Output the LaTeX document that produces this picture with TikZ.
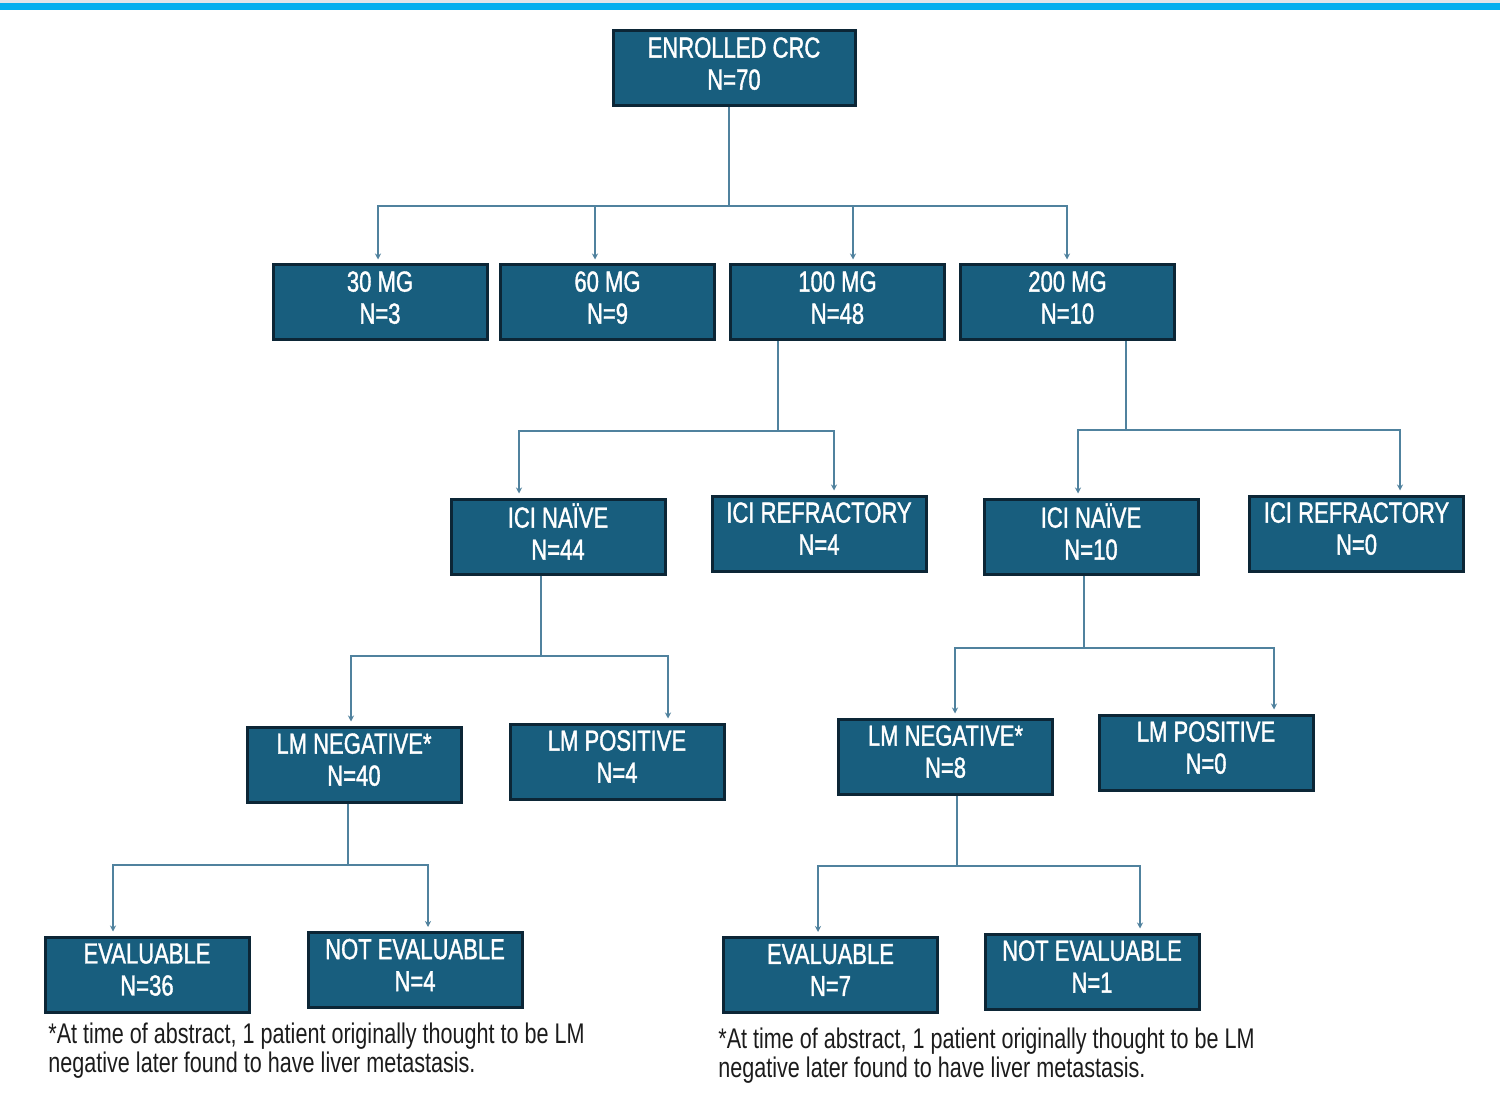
\documentclass[tikz,border=0pt]{standalone}
\usepackage{fontspec}
\setmainfont{Liberation Sans}
\newfontfamily\nar[FakeStretch=0.76]{Liberation Sans}
\newfontfamily\narb[FakeStretch=0.76,FakeBold=1.2]{Liberation Sans}
\usetikzlibrary{arrows.meta}
\definecolor{boxfill}{RGB}{24,94,126}
\definecolor{boxline}{RGB}{12,38,54}
\definecolor{conn}{RGB}{80,130,158}
\definecolor{topbar}{RGB}{0,174,239}
\definecolor{topgray}{RGB}{222,228,234}
\definecolor{note}{RGB}{28,28,28}
\begin{document}
\begin{tikzpicture}[x=0.5pt,y=-0.5pt,
  bx/.style={draw=boxline,line width=1.5pt,fill=boxfill,text=white,align=center,
    minimum width=107pt,minimum height=37.5pt,inner sep=0pt,text depth=5pt,
    font=\narb\fontsize{14.5}{16}\selectfont},
  ln/.style={draw=conn,line width=0.8pt},
  arr/.style={ln,-{Stealth[length=3pt,width=3pt]},shorten >=2pt},
  fn/.style={text=note,align=left,inner sep=0pt,anchor=base west,
    font=\nar\fontsize{14.2}{14.5}\selectfont}]
\useasboundingbox (0,0) rectangle (1500,1107);
\fill[white] (0,0) rectangle (1500,1107);
\fill[topgray] (0,0) rectangle (1500,3);
\fill[topbar] (0,3) rectangle (1500,10);

% boxes
\node[bx,minimum width=121pt] (e) at (734,68.5) {ENROLLED CRC\\N=70};
\node[bx] (m30) at (380,302.5) {30 MG\\N=3};
\node[bx] (m60) at (607.5,302.5) {60 MG\\N=9};
\node[bx] (m100) at (837.5,302.5) {100 MG\\N=48};
\node[bx] (m200) at (1067.5,302.5) {200 MG\\N=10};
\node[bx] (na) at (558,536.5) {ICI NAÏVE\\N=44};
\node[bx] (ra) at (819,533.5) {ICI REFRACTORY\\N=4};
\node[bx] (nb) at (1091,536.5) {ICI NAÏVE\\N=10};
\node[bx] (rb) at (1356.5,533.5) {ICI REFRACTORY\\N=0};
\node[bx] (lna) at (354,764.5) {LM NEGATIVE*\\N=40};
\node[bx] (lpa) at (617,761.5) {LM POSITIVE\\N=4};
\node[bx] (lnb) at (945.5,756.5) {LM NEGATIVE*\\N=8};
\node[bx] (lpb) at (1206,752.5) {LM POSITIVE\\N=0};
\node[bx,minimum width=102pt] (ea) at (147,974.5) {EVALUABLE\\N=36};
\node[bx] (xa) at (415,970) {NOT EVALUABLE\\N=4};
\node[bx] (eb) at (830.5,975) {EVALUABLE\\N=7};
\node[bx] (xb) at (1092,971.5) {NOT EVALUABLE\\N=1};

% junctions
\coordinate (j0) at (729,206);
\coordinate (j1) at (778,431);
\coordinate (j2) at (1126,430);
\coordinate (j3) at (541,656);
\coordinate (j4) at (1084,648);
\coordinate (j5) at (348,865);
\coordinate (j6) at (957,866);

% connectors
\draw[ln] (e.south -| j0) -- (j0);
\draw[arr] (j0) -| (m30.north -| 378,0);
\draw[arr] (j0) -| (m60.north -| 595,0);
\draw[arr] (j0) -| (m100.north -| 853,0);
\draw[arr] (j0) -| (m200.north -| 1067,0);

\draw[ln] (m100.south -| j1) -- (j1);
\draw[arr] (j1) -| (na.north -| 519,0);
\draw[arr] (j1) -| (ra.north -| 834,0);

\draw[ln] (m200.south -| j2) -- (j2);
\draw[arr] (j2) -| (nb.north -| 1078,0);
\draw[arr] (j2) -| (rb.north -| 1400,0);

\draw[ln] (na.south -| j3) -- (j3);
\draw[arr] (j3) -| (lna.north -| 351,0);
\draw[arr] (j3) -| (lpa.north -| 668,0);

\draw[ln] (nb.south -| j4) -- (j4);
\draw[arr] (j4) -| (lnb.north -| 955,0);
\draw[arr] (j4) -| (lpb.north -| 1274,0);

\draw[ln] (lna.south -| j5) -- (j5);
\draw[arr] (j5) -| (ea.north -| 113,0);
\draw[arr] (j5) -| (xa.north -| 428,0);

\draw[ln] (lnb.south -| j6) -- (j6);
\draw[arr] (j6) -| (eb.north -| 818,0);
\draw[arr] (j6) -| (xb.north -| 1140,0);

% footnotes
\node[fn] (fa) at (48,1072) {*At time of abstract, 1 patient originally thought to be LM\\negative later found to have liver metastasis.};
\node[fn] (fb) at (718,1077) {*At time of abstract, 1 patient originally thought to be LM\\negative later found to have liver metastasis.};
\end{tikzpicture}
\end{document}
